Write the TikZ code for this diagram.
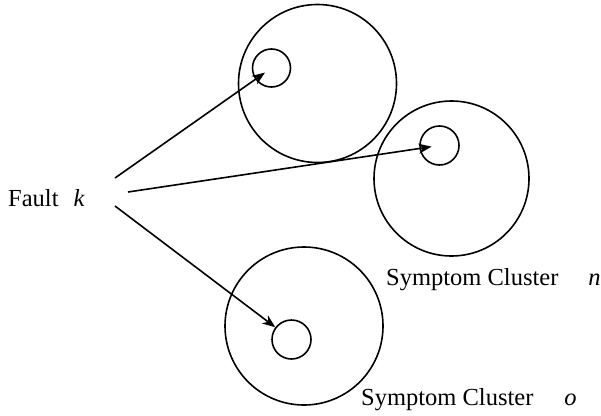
\documentclass[tikz,border=0pt]{standalone}
\usepackage{fontspec}
\setmainfont{Liberation Serif}
\usetikzlibrary{arrows.meta}
\begin{document}
\begin{tikzpicture}[x=1pt,y=-1pt,
  ring/.style={draw,circle,line width=1.6pt,inner sep=0pt},
  big/.style={ring,minimum size=#1},
  lbl/.style={anchor=base west,inner sep=0pt,font=\fontsize{24.5}{28}\selectfont},
  arr/.style={line width=1.6pt,-{Stealth[length=13pt,width=10pt,inset=4pt]}}]
\useasboundingbox (0,0) rectangle (601,415);
\node[big=158pt] (b1) at (317.5,83.5) {};
\node[big=38pt] (c1) at (271.5,68) {};
\node[big=155pt] (b2) at (451.5,178.5) {};
\node[big=39pt] (c2) at (439.5,145.5) {};
\node[big=158pt] (b3) at (304,326) {};
\node[big=39pt] (c3) at (291.5,339.5) {};
\node[lbl] (fault) at (8,206) {Fault\hspace{15pt}\textit{k}};
\node[lbl] (ln) at (386,285) {Symptom Cluster\hspace{30pt}\textit{n}};
\node[lbl] (lo) at (361,405) {Symptom Cluster\hspace{31pt}\textit{o}};
\coordinate (s1) at (115,178);
\coordinate (s2) at (128,192);
\coordinate (s3) at (115,206);
\draw[arr,shorten >=8pt] (s1) -- (c1.center);
\draw[arr,shorten >=8pt] (s2) -- (c2.center);
\draw[arr] (s3) -- (c3);
\end{tikzpicture}
\end{document}
